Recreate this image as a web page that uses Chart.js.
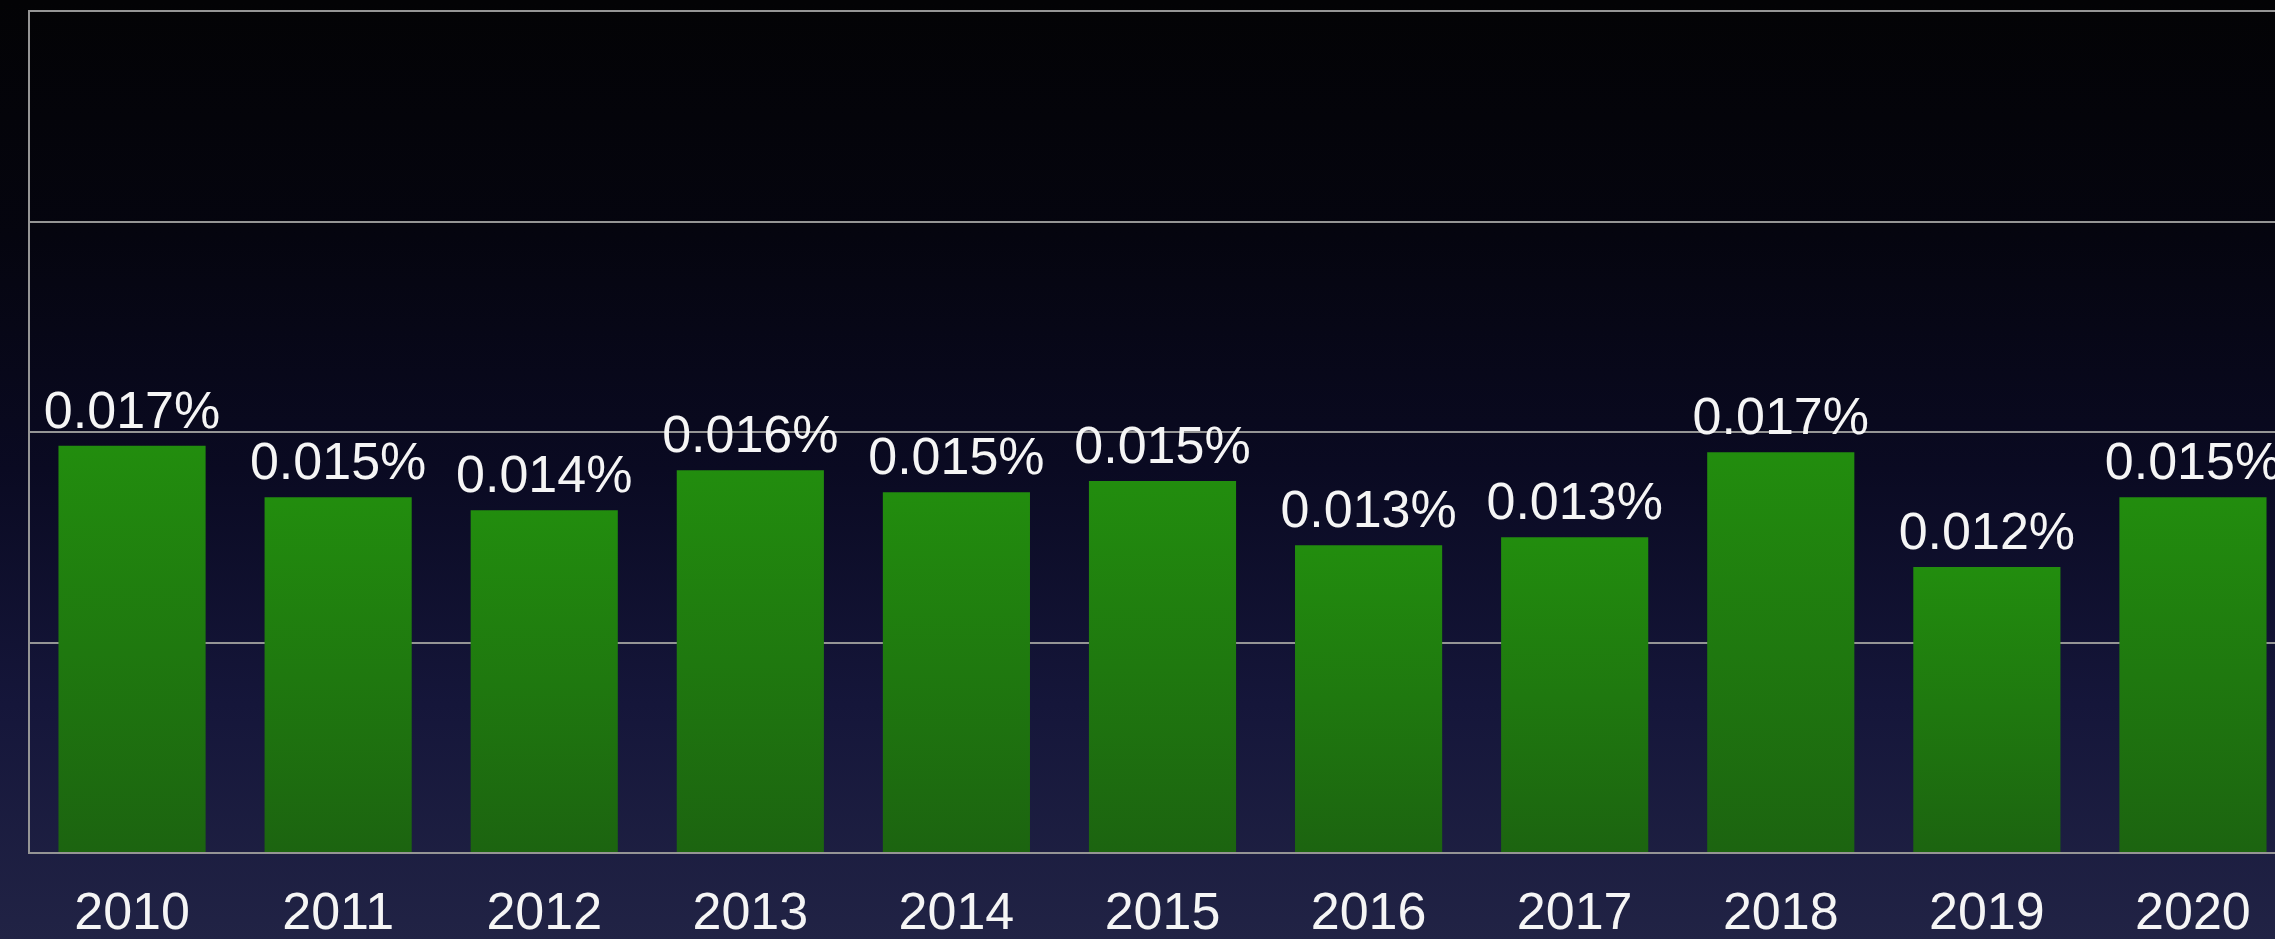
<!DOCTYPE html>
<html>
<head>
<meta charset="utf-8">
<script src="https://cdn.jsdelivr.net/npm/chart.js@4.4.1/dist/chart.umd.min.js"></script>
<style>
html,body{margin:0;padding:0;overflow:hidden;width:2275px;height:939px;}
body{background:linear-gradient(to bottom,#030305 0%,#05050f 25%,#0a0a22 50%,#15163a 75%,#212345 100%);}
#wrap{width:2310px;height:939px;}
canvas{display:block;}
</style>
</head>
<body>
<div id="wrap"><canvas id="grafico" width="2310" height="939"></canvas></div>
<script>
document.addEventListener("DOMContentLoaded", function(){

/* DATOS */
const years = ["2010","2011","2012","2013","2014","2015","2016","2017","2018","2019","2020"];
const shares = [0.01693,0.01479,0.01425,0.01591,0.0150,0.01546,0.01279,0.01313,0.01666,0.01189,0.01479];
const yTicks = [0,0.00875,0.0175,0.02625,0.035];

const fontFam = "'Liberation Sans','Helvetica Neue',Helvetica,Arial,sans-serif";

/* etiquetas encima de las barras */
const barLabels = {
id:"barLabels",
afterDatasetsDraw(chart){
const ctx = chart.ctx;
const meta = chart.getDatasetMeta(0);
ctx.save();
ctx.font = "52px " + fontFam;
ctx.fillStyle = "#f5f5f5";
ctx.textAlign = "center";
ctx.textBaseline = "alphabetic";
meta.data.forEach(function(bar,i){
ctx.fillText(shares[i].toFixed(3) + "%", bar.x, bar.y - 18);
});
ctx.restore();
}
};

const canvas = document.getElementById("grafico");

new Chart(canvas,{

type:"bar",

data:{
labels:years,
datasets:[{
label:"share",
data:shares,
backgroundColor:function(c){
const y = c.chart.scales.y;
if(!y || c.dataIndex === undefined) return "#1f7a10";
const top = y.getPixelForValue(shares[c.dataIndex]);
const bottom = y.getPixelForValue(0);
if(!isFinite(top) || !isFinite(bottom) || top === bottom) return "#1f7a10";
const g = c.chart.ctx.createLinearGradient(0,top,0,bottom);
g.addColorStop(0,"#228d0e");
g.addColorStop(1,"#1c6410");
return g;
},
borderWidth:0,
categoryPercentage:1,
barPercentage:0.714
}]
},

options:{
responsive:false,
animation:false,
layout:{padding:{left:29,right:14,top:11,bottom:2}},
plugins:{
legend:{display:false},
tooltip:{enabled:false}
},
scales:{
x:{
grid:{display:false,drawTicks:false},
border:{display:true,color:"#959595",width:2},
ticks:{color:"#f5f5f5",font:{family:fontFam,size:52,lineHeight:1},padding:36,maxRotation:0},
afterFit:function(scale){ scale.height = 84; }
},
y:{
min:0,
max:0.035,
afterBuildTicks:function(axis){
axis.ticks = yTicks.map(function(v){return {value:v};});
},
grid:{color:"#959595",lineWidth:2,drawTicks:false},
border:{display:true,color:"#959595",width:2},
ticks:{display:false}
}
}
},

plugins:[barLabels]

});

});
</script>
</body>
</html>
